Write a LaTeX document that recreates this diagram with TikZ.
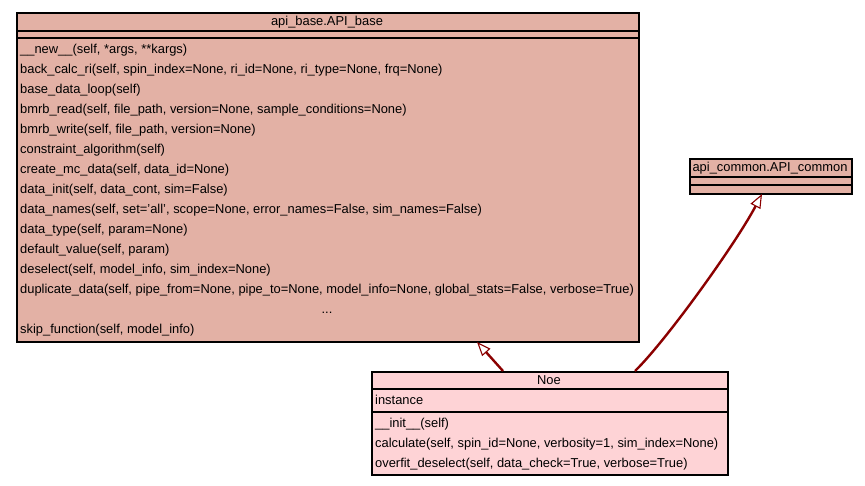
\documentclass[tikz,border=0pt]{standalone}
\usepackage{fontspec}
\setmainfont{Liberation Sans}
\usetikzlibrary{arrows.meta}
\definecolor{basefill}{RGB}{227,177,165}
\definecolor{noefill}{RGB}{254,211,214}
\definecolor{edgecol}{RGB}{139,0,0}
\begin{document}
\begin{tikzpicture}[x=1pt,y=-1pt,
  umlbox/.style={draw=black, line width=1.5pt, inner sep=0pt, anchor=north west},
  sepline/.style={draw=black, line width=1.5pt},
  mtext/.style={anchor=base west, inner sep=0pt, font=\fontsize{12.9}{14}\selectfont},
  ctext/.style={anchor=base, inner sep=0pt, font=\fontsize{12.9}{14}\selectfont},
  inh/.style={draw=edgecol, line width=2.4pt,
    -{Triangle[open, length=14pt, width=11pt, line width=1.1pt, fill=white]}}]
\useasboundingbox[fill=white] (0,0) rectangle (865,485);

% ---- api_base.API_base ----
\node[umlbox, fill=basefill, minimum width=622pt, minimum height=329pt] (base) at (16,12) {};
\draw[sepline] (16,31) -- (638,31);
\draw[sepline] (16,38) -- (638,38);
\node[ctext] (basetitle) at (327,25.5) {api\_base.API\_base};
\node[mtext] (m1) at (20,53.5) {\_\_new\_\_(self, *args, **kargs)};
\node[mtext] (m2) at (20,73.5) {back\_calc\_ri(self, spin\_index=None, ri\_id=None, ri\_type=None, frq=None)};
\node[mtext] (m3) at (20,93.5) {base\_data\_loop(self)};
\node[mtext] (m4) at (20,113.5) {bmrb\_read(self, file\_path, version=None, sample\_conditions=None)};
\node[mtext] (m5) at (20,133.5) {bmrb\_write(self, file\_path, version=None)};
\node[mtext] (m6) at (20,153.5) {constraint\_algorithm(self)};
\node[mtext] (m7) at (20,173.5) {create\_mc\_data(self, data\_id=None)};
\node[mtext] (m8) at (20,193.5) {data\_init(self, data\_cont, sim=False)};
\node[mtext] (m9) at (20,213.5) {data\_names(self, set='all', scope=None, error\_names=False, sim\_names=False)};
\node[mtext] (m10) at (20,233.5) {data\_type(self, param=None)};
\node[mtext] (m11) at (20,253.5) {default\_value(self, param)};
\node[mtext] (m12) at (20,273.5) {deselect(self, model\_info, sim\_index=None)};
\node[mtext] (m13) at (20,293.5) {duplicate\_data(self, pipe\_from=None, pipe\_to=None, model\_info=None, global\_stats=False, verbose=True)};
\node[ctext] (mdots) at (327,313.5) {...};
\node[mtext] (m14) at (20,333.5) {skip\_function(self, model\_info)};

% ---- api_common.API_common ----
\node[umlbox, fill=basefill, minimum width=162pt, minimum height=35pt] (common) at (689,158) {};
\draw[sepline] (689,177) -- (851,177);
\draw[sepline] (689,185) -- (851,185);
\node[ctext] (commontitle) at (770,171.5) {api\_common.API\_common};

% ---- Noe ----
\node[umlbox, fill=noefill, minimum width=356pt, minimum height=103pt] (noe) at (371,371) {};
\draw[sepline] (371,389) -- (727,389);
\draw[sepline] (371,412) -- (727,412);
\node[ctext] (noetitle) at (549,384) {Noe};
\node[mtext] (a1) at (375,404) {instance};
\node[mtext] (n1) at (375,427) {\_\_init\_\_(self)};
\node[mtext] (n2) at (375,447) {calculate(self, spin\_id=None, verbosity=1, sim\_index=None)};
\node[mtext] (n3) at (375,467) {overfit\_deselect(self, data\_check=True, verbose=True)};

% ---- inheritance ----
\coordinate (noeA) at (503,371);
\coordinate (baseIn) at (477,342);
\coordinate (noeB) at (635,371);
\coordinate (commonIn) at (762,194);
\draw[inh] (noeA) -- (baseIn);
\draw[inh] (noeB) .. controls (665,342) and (735,245) .. (commonIn);
\end{tikzpicture}
\end{document}
